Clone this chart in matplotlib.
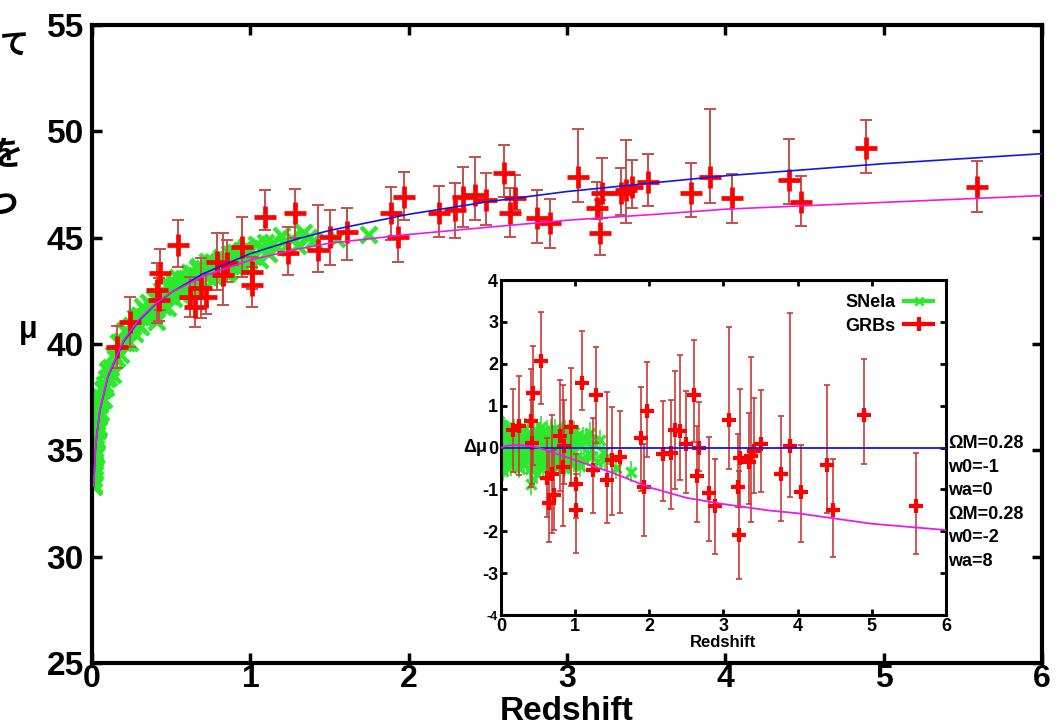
import numpy as np
import matplotlib
matplotlib.use("Agg")
import matplotlib.pyplot as plt
import matplotlib.transforms as mtransforms
from matplotlib.lines import Line2D

plt.rcParams['font.family'] = ['Liberation Sans', 'DejaVu Sans']
plt.rcParams['font.weight'] = 'bold'
plt.rcParams['axes.unicode_minus'] = False

# model curves
model_z = [0.01, 0.02, 0.03, 0.05, 0.1, 0.2, 0.3, 0.4, 0.5, 0.7, 1.0, 1.3, 1.5,
           2.0, 2.5, 3.0, 3.6, 4.0, 5.0, 6.0]
model_mu = [33.32, 34.84, 35.73, 36.88, 38.46, 40.12, 41.13, 41.86, 42.42, 43.30,
            44.25, 44.95, 45.34, 46.10, 46.69, 47.17, 47.62, 47.91, 48.48, 48.95]
# residual of the w0=-2, wa=8 model with respect to the w0=-1 model
model2_dmu = [0.0, 0.01, 0.02, 0.03, 0.05, 0.06, 0.05, 0.03, 0.0, -0.12,
              -0.30, -0.48, -0.60, -0.95, -1.20, -1.35, -1.50, -1.57, -1.82, -1.97]

# GRBs: redshift, distance modulus, top / bottom of error bar
grb_z = [0.16, 0.24, 0.43, 0.41, 0.42, 0.54, 0.62, 0.65, 0.69, 0.72,
         0.79, 0.83, 0.85, 0.95, 1.01, 1.01, 1.09, 1.28, 1.24, 1.43,
         1.50, 1.61, 1.89, 1.97, 1.93, 2.19, 2.29, 2.34, 2.42, 2.49,
         2.60, 2.67, 2.64, 2.81, 2.89, 3.07, 3.19, 3.21, 3.22, 3.34,
         3.37, 3.41, 3.51, 3.78, 3.90, 4.04, 4.40, 4.48, 4.89, 5.59]
grb_mu = [39.88, 41.05, 43.33, 42.54, 42.07, 44.66, 42.23, 41.76, 42.62, 42.23,
          43.87, 43.25, 43.80, 44.58, 43.40, 42.78, 45.99, 46.16, 44.27, 44.42,
          45.05, 45.28, 46.16, 46.93, 45.05, 46.16, 46.30, 46.93, 47.00, 46.77,
          48.03, 46.85, 46.15, 45.91, 45.68, 47.87, 46.38, 45.24, 47.09, 47.09,
          47.24, 47.40, 47.63, 47.12, 47.87, 46.88, 47.71, 46.69, 49.20, 47.37]
grb_top = [40.85, 42.23, 44.45, 43.80, 43.10, 45.83, 43.17, 43.00, 44.03, 43.30,
           45.20, 45.20, 44.90, 45.99, 44.11, 43.64, 47.24, 47.30, 45.52, 46.54,
           46.30, 46.38, 47.38, 48.10, 46.07, 47.43, 47.57, 48.34, 48.80, 48.04,
           49.36, 47.95, 47.33, 47.24, 46.80, 50.10, 47.63, 46.77, 48.73, 48.26,
           49.60, 48.65, 48.93, 48.50, 51.04, 48.00, 49.63, 47.90, 50.53, 48.62]
grb_bot = [38.86, 39.88, 41.60, 40.98, 41.10, 43.64, 41.29, 40.82, 41.21, 41.40,
           42.54, 41.84, 42.90, 43.17, 42.60, 41.76, 45.36, 45.00, 43.25, 43.40,
           43.72, 43.95, 44.90, 45.83, 43.87, 45.05, 44.98, 45.52, 45.83, 45.60,
           46.93, 46.30, 45.05, 44.75, 44.52, 46.70, 45.90, 44.19, 45.91, 46.07,
           45.68, 46.38, 46.49, 45.99, 46.65, 45.68, 46.58, 45.56, 48.03, 46.22]

# SNe Ia: redshift and residual from the w0=-1 model
sn_z = [0.010, 0.011, 0.012, 0.013, 0.014, 0.015, 0.016, 0.017, 0.018, 0.019,
        0.020, 0.021, 0.022, 0.023, 0.024, 0.025, 0.026, 0.027, 0.028, 0.030,
        0.031, 0.032, 0.034, 0.035, 0.037, 0.039, 0.041, 0.043, 0.046, 0.049,
        0.052, 0.055, 0.058, 0.062, 0.066, 0.070, 0.075, 0.080, 0.086, 0.092,
        0.10, 0.11, 0.12, 0.13, 0.14, 0.15, 0.16, 0.17, 0.18, 0.19,
        0.20, 0.21, 0.22, 0.23, 0.24, 0.25, 0.26, 0.27, 0.28, 0.29,
        0.30, 0.31, 0.32, 0.33, 0.34, 0.35, 0.36, 0.37, 0.38, 0.39,
        0.40, 0.41, 0.42, 0.43, 0.44, 0.45, 0.46, 0.47, 0.48, 0.49,
        0.50, 0.51, 0.52, 0.53, 0.54, 0.55, 0.56, 0.57, 0.58, 0.59,
        0.60, 0.61, 0.62, 0.63, 0.64, 0.65, 0.66, 0.67, 0.68, 0.69,
        0.70, 0.71, 0.72, 0.73, 0.74, 0.75, 0.76, 0.77, 0.78, 0.79,
        0.80, 0.81, 0.82, 0.83, 0.84, 0.85, 0.86, 0.87, 0.88, 0.89,
        0.90, 0.91, 0.92, 0.93, 0.94, 0.95, 0.96, 0.97, 0.98, 0.99,
        1.00, 1.02, 1.04, 1.06, 1.08, 1.10, 1.12, 1.14, 1.17, 1.20,
        1.23, 1.26, 1.30, 1.34, 1.37, 1.40, 1.55, 1.75,
        0.305, 0.355, 0.415, 0.455, 0.505, 0.525, 0.545, 0.575, 0.615, 0.645,
        0.675, 0.705, 0.735, 0.765, 0.805, 0.835, 0.865, 0.905, 0.935, 0.965]
sn_dmu = [0.32, -0.18, 0.45, -0.40, 0.10, 0.55, -0.25, 0.05, 0.38, -0.48,
          0.22, -0.08, 0.50, -0.32, 0.15, -0.55, 0.28, 0.02, -0.20, 0.42,
          -0.36, 0.12, 0.35, -0.12, 0.48, -0.28, 0.20, -0.45, 0.08, 0.30,
          -0.15, 0.40, -0.38, 0.18, -0.05, 0.33, -0.30, 0.25, -0.10, 0.14,
          0.28, -0.22, 0.10, -0.42, 0.36, 0.02, -0.18, 0.44, -0.30, 0.16,
          -0.06, 0.38, -0.26, 0.12, -0.48, 0.24, 0.06, -0.34, 0.30, -0.12,
          0.20, -0.40, 0.46, -0.08, 0.15, -0.28, 0.34, -0.16, 0.04, -0.52,
          0.26, -0.88, 0.10, -0.20, 0.42, -0.35, 0.18, -0.05, -0.62, 0.32,
          -0.14, 0.22, -0.40, 0.08, 0.50, -0.24, 0.12, -0.46, 0.30, -0.02,
          0.18, -0.32, 0.40, -0.10, 0.26, -0.50, 0.06, 0.34, -0.22, 0.14,
          -0.38, 0.20, -0.06, 0.44, -0.28, 0.10, -0.16, 0.30, -0.44, 0.02,
          0.24, -0.12, 0.36, -0.30, 0.08, -0.48, 0.16, 0.40, -0.20, 0.04,
          -0.26, 0.32, -0.08, 0.12, -0.40, 0.28, -0.14, 0.06, 0.38, -0.34,
          0.10, -0.22, 0.30, -0.45, 0.05, 0.25, -0.30, 0.15, -0.12, 0.35,
          -0.20, 0.08, -0.35, 0.18, -0.10, -0.28, -0.50, -0.58,
          0.15, -0.30, 0.28, -0.45, 0.05, 0.35, -0.18, 0.22, -0.38, 0.12,
          0.42, -0.08, -0.25, 0.30, -0.12, 0.18, -0.42, 0.08, -0.22, 0.26]
sn_err = 0.25

params_1 = ["\u03a9M=0.28", "w0=-1", "wa=0"]
params_2 = ["\u03a9M=0.28", "w0=-2", "wa=8"]

green = '#2ee82e'
red = '#ff0000'
blue = '#1414e6'
magenta = '#ee18ee'

model_mu = np.array(model_mu)
model2_mu = model_mu + np.array(model2_dmu)
grb_z = np.array(grb_z)
grb_mu = np.array(grb_mu)
grb_top = np.array(grb_top)
grb_bot = np.array(grb_bot)
sn_z = np.array(sn_z)
sn_dmu = np.array(sn_dmu)
sn_mu = np.interp(sn_z, model_z, model_mu) + sn_dmu
grb_dmu = grb_mu - np.interp(grb_z, model_z, model_mu)

fig = plt.figure(figsize=(10.58, 7.25), dpi=100)

# ---- main panel ----
ax = fig.add_axes([0.087, 0.0855, 0.898, 0.88])
ax.plot(sn_z, sn_mu, 'x', color=green, ms=12, mew=3.2, zorder=2)
ax.errorbar(grb_z, grb_mu, yerr=[grb_mu - grb_bot, grb_top - grb_mu], fmt='none',
            ecolor='#c4504c', elinewidth=1.4, capsize=4, capthick=1.4, zorder=3)
ax.plot(grb_z, grb_mu, '+', color=red, ms=16, mew=3.4, zorder=4)
ax.plot(model_z, model_mu, color=blue, lw=1.2, zorder=5)
ax.plot(model_z, model2_mu, color=magenta, lw=1.2, zorder=5)

ax.set_xlim(0, 6)
ax.set_ylim(25, 55)
ax.set_xticks(range(0, 7))
ax.set_yticks(range(25, 56, 5))
ax.tick_params(direction='in', length=7, width=2.5, labelsize=24, top=True, right=True)
ax.tick_params(axis='y', pad=6)
ax.tick_params(axis='x', pad=1, labelsize=23)
for s in ax.spines.values():
    s.set_linewidth(3)
ax.set_xlabel('Redshift', fontsize=24, fontweight='bold', labelpad=1)
fig.text(0.027, 0.545, '\u03bc', fontsize=22, ha='center', va='center')

# ---- inset ----
ax2 = fig.add_axes([0.4735, 0.1517, 0.4206, 0.462])
ax2.errorbar(sn_z, sn_dmu, yerr=sn_err, fmt='none', ecolor=green, elinewidth=1.2, zorder=2)
ax2.plot(sn_z, sn_dmu, 'x', color=green, ms=7, mew=2.4, zorder=2)
ax2.errorbar(grb_z, grb_dmu, yerr=[grb_mu - grb_bot, grb_top - grb_mu], fmt='none',
             ecolor='#cc3a36', elinewidth=1.2, capsize=2.5, capthick=1.2, zorder=3)
ax2.plot(grb_z, grb_dmu, '+', color=red, ms=10, mew=3.0, zorder=4)
ax2.axhline(0, color=blue, lw=1.3, zorder=5)
ax2.plot(model_z, model2_dmu, color=magenta, lw=1.3, zorder=5)

ax2.set_xlim(0, 6)
ax2.set_ylim(-4, 4)
ax2.set_xticks(range(0, 7))
ax2.set_yticks(range(-4, 5))
ax2.tick_params(direction='in', length=4, width=2, labelsize=13, top=True, right=True, pad=2)
ax2.get_yticklabels()[0].set_fontsize(9)
for s in ax2.spines.values():
    s.set_linewidth(2.2)
ax2.set_xlabel('Redshift', fontsize=12, fontweight='bold', labelpad=0)
trans = mtransforms.blended_transform_factory(ax2.transAxes, ax2.transData)
ax2.text(-0.03, 0, '\u0394\u03bc', transform=trans, fontsize=13, ha='right', va='center')

handles = [Line2D([], [], color=green, marker='x', lw=3, ms=6, mew=2),
           Line2D([], [], color=red, marker='+', lw=3, ms=10, mew=3)]
ax2.legend(handles, ['SNeIa', 'GRBs'], loc='upper right', bbox_to_anchor=(1.0, 0.995),
           frameon=False, markerfirst=False, prop={'size': 13, 'weight': 'bold'},
           handlelength=1.6, labelspacing=0.35, handletextpad=0.5, borderaxespad=0.3)

for i, t in enumerate(params_1 + params_2):
    fig.text(0.896, 1 - (444 + i * 23.4) / 725, t, fontsize=13, ha='left', va='center')

# handwritten characters cut at the left edge
fig.text(0.014, 0.938, '\u3066', fontsize=21, family=['Noto Sans CJK JP'], ha='center', va='center')
fig.text(0.006, 0.786, '\u3092', fontsize=24, family=['Noto Sans CJK JP'], ha='center', va='center')
fig.text(0.002, 0.718, '\u3064', fontsize=22, family=['Noto Sans CJK JP'], ha='center', va='center')

fig.savefig('out.png', dpi=100)
